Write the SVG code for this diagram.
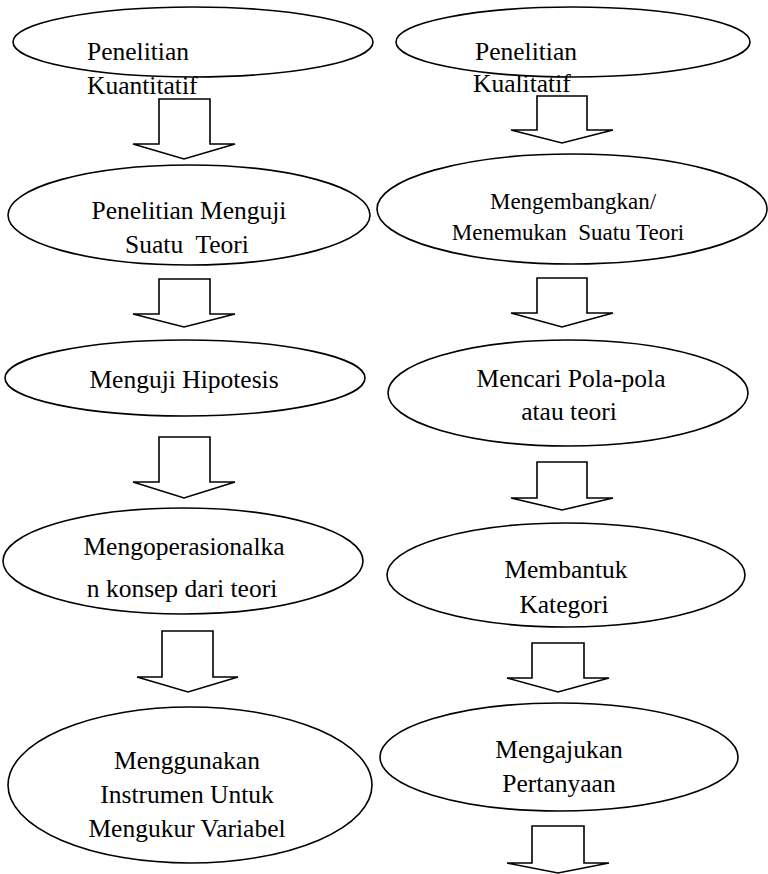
<svg xmlns="http://www.w3.org/2000/svg" width="768" height="874" viewBox="0 0 768 874">
<style>
.n ellipse{fill:#fff;stroke:#000;stroke-width:1.6}
.a polygon{fill:#fff;stroke:#000;stroke-width:1.6;stroke-linejoin:miter}
.n text{fill:#000}
.c{text-anchor:middle}
</style>
<rect width="768" height="874" fill="#fff"/>
<g id="connectors" class="a">
<polygon points="159,99 210,99 210,144 235,144 184,159 133,144 159,144"/>
<polygon points="159,279 210,279 210,314 235,314 184,327 133,314 159,314"/>
<polygon points="159,437 210,437 210,482 235,482 184,498 133,482 159,482"/>
<polygon points="162,631 213,631 213,677 238,677 188,692 137,677 162,677"/>
<polygon points="537,96 587,96 587,130 613,130 562,143 511,130 537,130"/>
<polygon points="537,278 587,278 587,313 613,313 562,327 511,313 537,313"/>
<polygon points="537,462 587,462 587,498 613,498 562,510 511,498 537,498"/>
<polygon points="532,643 584,643 584,678 609,678 558,692 507,678 532,678"/>
<polygon points="532,826 584,826 584,863 609,863 558,873 507,863 532,863"/>
</g>
<g font-family="'Liberation Serif', 'Times New Roman', serif" font-size="25.5">
<g id="n1" class="n"><ellipse cx="193" cy="42" rx="180" ry="35"/><text x="87" y="60">Penelitian</text><text x="87" y="94">Kuantitatif</text></g>
<g id="n2" class="n"><ellipse cx="189" cy="215" rx="181" ry="50"/><text class="c" x="189" y="219">Penelitian Menguji</text><text class="c" x="187" y="253" xml:space="preserve">Suatu  Teori</text></g>
<g id="n3" class="n"><ellipse cx="185" cy="378" rx="180" ry="38"/><text class="c" x="184" y="388">Menguji Hipotesis</text></g>
<g id="n4" class="n"><ellipse cx="183" cy="561" rx="180" ry="53"/><text class="c" x="184" y="555">Mengoperasionalka</text><text class="c" x="182" y="597">n konsep dari teori</text></g>
<g id="n5" class="n"><ellipse cx="190" cy="785" rx="182" ry="78"/><text class="c" x="187" y="769">Menggunakan</text><text class="c" x="187" y="803">Instrumen Untuk</text><text class="c" x="187" y="837">Mengukur Variabel</text></g>
<g id="n6" class="n"><ellipse cx="573" cy="42" rx="177" ry="35"/><text x="475" y="60">Penelitian</text><text x="473" y="92">Kualitatif</text></g>
<g id="n7" class="n" font-size="23"><ellipse cx="572" cy="209" rx="195" ry="55"/><text class="c" x="573" y="209">Mengembangkan/</text><text class="c" x="568" y="240" xml:space="preserve">Menemukan  Suatu Teori</text></g>
<g id="n8" class="n"><ellipse cx="568" cy="393" rx="180" ry="53"/><text class="c" x="571" y="387">Mencari Pola-pola</text><text class="c" x="569" y="420">atau teori</text></g>
<g id="n9" class="n"><ellipse cx="566" cy="575" rx="179" ry="52"/><text class="c" x="566" y="578">Membantuk</text><text class="c" x="564" y="613">Kategori</text></g>
<g id="n10" class="n"><ellipse cx="559" cy="757" rx="179" ry="54"/><text class="c" x="559" y="758">Mengajukan</text><text class="c" x="559" y="792">Pertanyaan</text></g>
</g>
</svg>
